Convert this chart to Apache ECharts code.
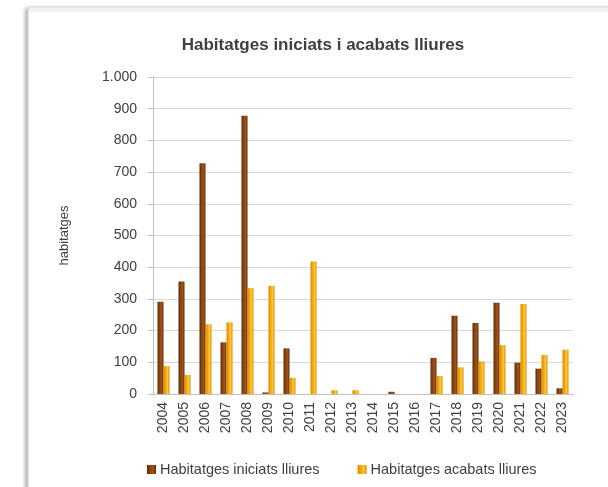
<!DOCTYPE html>
<html><head><meta charset="utf-8">
<script src="https://cdn.jsdelivr.net/npm/echarts@6/dist/echarts.min.js"></script>
<style>html,body{margin:0;padding:0;background:#fff}#c{width:608px;height:487px}</style>
</head><body><div id="c"></div>
<script>
const years = ['2004','2005','2006','2007','2008','2009','2010','2011','2012','2013','2014','2015','2016','2017','2018','2019','2020','2021','2022','2023'];
const iniciats = [291,355,728,163,878,5,144,0,0,0,0,7,0,114,247,224,288,99,80,18];
const acabats = [88,60,220,226,334,341,51,418,12,12,0,0,0,57,84,103,154,284,123,140];
const yTicks = [0,100,200,300,400,500,600,700,800,900,1000];

const font = 'Liberation Sans';
const chart = echarts.init(document.getElementById('c'));
function grad(dark, mid, light){
  return new echarts.graphic.LinearGradient(0,0,1,0,[
    {offset:0,color:dark},{offset:0.35,color:mid},{offset:0.7,color:light},{offset:1,color:dark}]);
}
chart.setOption({
  animation:false,
  graphic:[{type:'rect',shape:{x:28,y:7,width:590,height:500},z:-10,
    style:{fill:'#fff',stroke:'#d9d9d9',lineWidth:1,shadowBlur:4,shadowOffsetX:-2,shadowOffsetY:2,shadowColor:'rgba(0,0,0,0.35)'}}],
  title:{text:'Habitatges iniciats i acabats lliures',left:318,top:32,textAlign:'center',
    textStyle:{fontFamily:font,fontSize:17,fontWeight:'bold',color:'#404040'}},
  grid:{left:153,right:35,top:77,bottom:93},
  legend:{top:457,left:142,itemWidth:9,itemHeight:9,itemGap:38,icon:'rect',
    textStyle:{fontFamily:font,fontSize:14.5,color:'#404040',padding:[0,0,0,-1]},
    data:['Habitatges iniciats lliures','Habitatges acabats lliures']},
  xAxis:{type:'category',data:years,
    axisLine:{lineStyle:{color:'#bfbfbf'}},axisTick:{lineStyle:{color:'#bfbfbf'},length:5},
    axisLabel:{rotate:90,fontFamily:font,fontSize:14,color:'#404040',margin:8}},
  yAxis:{type:'value',min:0,max:1000,interval:100,name:'habitatges',nameLocation:'middle',nameGap:82,
    nameTextStyle:{fontFamily:font,fontSize:13,color:'#404040'},
    axisLine:{show:true,lineStyle:{color:'#bfbfbf'}},axisTick:{show:true,length:5,lineStyle:{color:'#bfbfbf'}},
    splitLine:{lineStyle:{color:'#d9d9d9'}},
    axisLabel:{fontFamily:font,fontSize:14,color:'#404040',margin:16,
      formatter:v=>yTicks.includes(v)?v.toLocaleString('de-DE'):''}},
  series:[
    {name:'Habitatges iniciats lliures',type:'bar',data:iniciats,barWidth:6,barGap:'0%',
      itemStyle:{color:grad('#5a2a05','#8a4510','#a0521a')}},
    {name:'Habitatges acabats lliures',type:'bar',data:acabats,barWidth:6,
      itemStyle:{color:grad('#d98a00','#f5a800','#ffc640')}}
  ]
});
</script></body></html>
